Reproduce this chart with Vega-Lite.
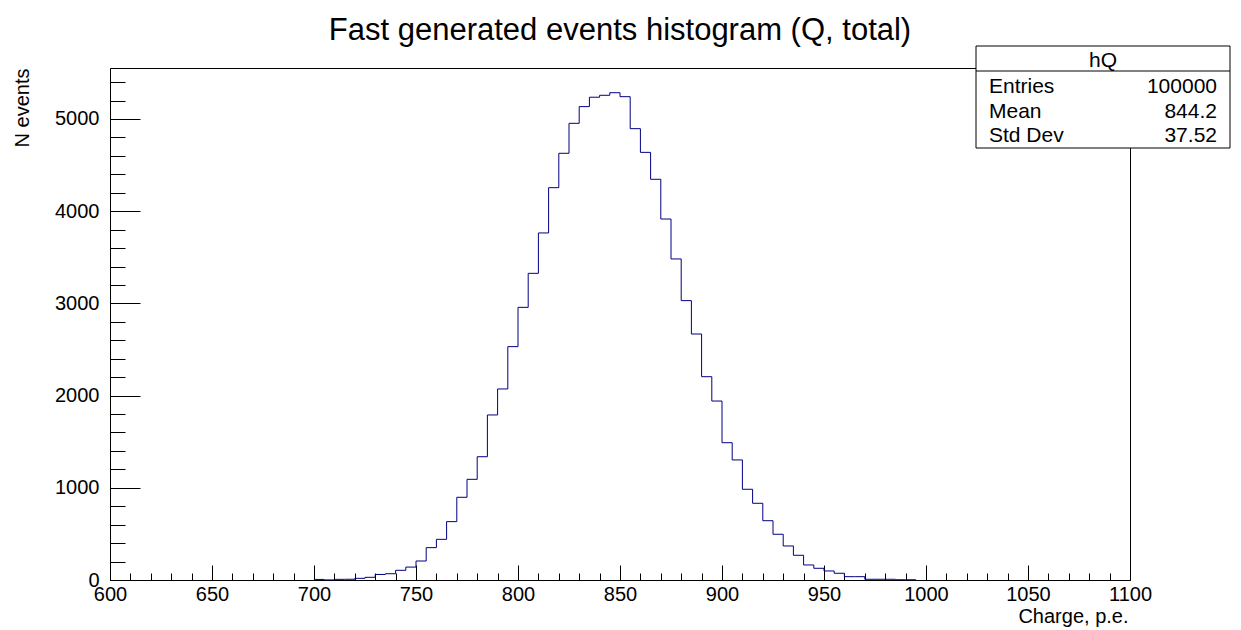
{
  "$schema": "https://vega.github.io/schema/vega-lite/v6.json",
  "width": 1020,
  "height": 512,
  "autosize": {"type": "none"},
  "padding": {"left": 110, "top": 68, "right": 111, "bottom": 50},
  "background": "white",
  "title": {
    "text": "Fast generated events histogram (Q, total)",
    "font": "Liberation Sans",
    "fontSize": 31,
    "fontWeight": "normal",
    "color": "black",
    "anchor": "middle",
    "baseline": "alphabetic",
    "offset": -25
  },
  "config": {
    "view": {"stroke": "black", "strokeWidth": 1},
    "font": "Liberation Sans",
    "axis": {
      "labelFont": "Liberation Sans",
      "labelFontSize": 20,
      "labelColor": "black",
      "titleFont": "Liberation Sans",
      "titleFontSize": 20,
      "titleFontWeight": "normal",
      "titleColor": "black",
      "tickColor": "black",
      "domainColor": "black",
      "tickWidth": 1,
      "domainWidth": 1,
      "grid": false,
      "labelFlush": false,
      "labelOverlap": false,
      "labelBound": false
    }
  },
  "datasets": {
    "hist": [
      {"charge": 700, "events": 6}, {"charge": 705, "events": 1}, {"charge": 710, "events": 7}, {"charge": 715, "events": 8},
      {"charge": 720, "events": 18}, {"charge": 725, "events": 29}, {"charge": 730, "events": 60}, {"charge": 735, "events": 68},
      {"charge": 740, "events": 105}, {"charge": 745, "events": 140}, {"charge": 750, "events": 206}, {"charge": 755, "events": 351},
      {"charge": 760, "events": 441}, {"charge": 765, "events": 633}, {"charge": 770, "events": 897}, {"charge": 775, "events": 1092},
      {"charge": 780, "events": 1337}, {"charge": 785, "events": 1790}, {"charge": 790, "events": 2072}, {"charge": 795, "events": 2531},
      {"charge": 800, "events": 2957}, {"charge": 805, "events": 3326}, {"charge": 810, "events": 3764}, {"charge": 815, "events": 4255},
      {"charge": 820, "events": 4628}, {"charge": 825, "events": 4953}, {"charge": 830, "events": 5134}, {"charge": 835, "events": 5236},
      {"charge": 840, "events": 5257}, {"charge": 845, "events": 5285}, {"charge": 850, "events": 5242}, {"charge": 855, "events": 4895},
      {"charge": 860, "events": 4638}, {"charge": 865, "events": 4346}, {"charge": 870, "events": 3915}, {"charge": 875, "events": 3482},
      {"charge": 880, "events": 3030}, {"charge": 885, "events": 2668}, {"charge": 890, "events": 2205}, {"charge": 895, "events": 1941},
      {"charge": 900, "events": 1489}, {"charge": 905, "events": 1302}, {"charge": 910, "events": 984}, {"charge": 915, "events": 832},
      {"charge": 920, "events": 643}, {"charge": 925, "events": 496}, {"charge": 930, "events": 369}, {"charge": 935, "events": 268},
      {"charge": 940, "events": 163}, {"charge": 945, "events": 127}, {"charge": 950, "events": 98}, {"charge": 955, "events": 73},
      {"charge": 960, "events": 36}, {"charge": 965, "events": 36}, {"charge": 970, "events": 8}, {"charge": 975, "events": 8},
      {"charge": 980, "events": 8}, {"charge": 985, "events": 3}, {"charge": 990, "events": 3}, {"charge": 995, "events": 0}
    ],
    "stats": [
      {"stat": "Entries", "value": "100000"},
      {"stat": "Mean", "value": "844.2"},
      {"stat": "Std Dev", "value": "37.52"}
    ],
    "box": [{"name": "hQ"}]
  },
  "layer": [
    {
      "data": {"name": "hist"},
      "mark": {"type": "line", "interpolate": "step-after", "color": "#000080", "strokeWidth": 1},
      "encoding": {
        "x": {
          "field": "charge",
          "type": "quantitative",
          "scale": {"domain": [600, 1100], "nice": false, "zero": false},
          "axis": {
            "title": "Charge, p.e.",
            "values": [600,610,620,630,640,650,660,670,680,690,700,710,720,730,740,750,760,770,780,790,800,810,820,830,840,850,860,870,880,890,900,910,920,930,940,950,960,970,980,990,1000,1010,1020,1030,1040,1050,1060,1070,1080,1090,1100],
            "format": "d",
            "labelExpr": "datum.value % 50 === 0 ? datum.label : ''",
            "tickSize": {"condition": {"test": "datum.value % 50 === 0", "value": -15}, "value": -7},
            "labelPadding": 19,
            "titleAnchor": "end",
            "titleAlign": "right",
            "titleBaseline": "alphabetic",
            "titleX": 1018,
            "titleY": 42
          }
        },
        "y": {
          "field": "events",
          "type": "quantitative",
          "scale": {"domain": [0, 5553], "nice": false, "zero": true},
          "axis": {
            "title": "N events",
            "values": [0,200,400,600,800,1000,1200,1400,1600,1800,2000,2200,2400,2600,2800,3000,3200,3400,3600,3800,4000,4200,4400,4600,4800,5000,5200,5400],
            "format": "d",
            "labelExpr": "datum.value % 1000 === 0 ? datum.label : ''",
            "tickSize": {"condition": {"test": "datum.value % 1000 === 0", "value": -30}, "value": -15},
            "labelPadding": 41,
            "titleAngle": -90,
            "titleAnchor": "end",
            "titleAlign": "right",
            "titleBaseline": "alphabetic",
            "titleX": -82,
            "titleY": 0
          }
        }
      }
    },
    {
      "data": {"name": "box"},
      "mark": {"type": "rect", "fill": "white", "stroke": "black", "strokeWidth": 1},
      "encoding": {
        "x": {"value": 866},
        "x2": {"value": 1120},
        "y": {"value": -22},
        "y2": {"value": 80}
      }
    },
    {
      "data": {"name": "box"},
      "mark": {"type": "rule", "color": "black", "strokeWidth": 1},
      "encoding": {
        "x": {"value": 866},
        "x2": {"value": 1120},
        "y": {"value": 3}
      }
    },
    {
      "data": {"name": "box"},
      "mark": {"type": "text", "font": "Liberation Sans", "fontSize": 21, "align": "center", "baseline": "alphabetic", "color": "black"},
      "encoding": {
        "x": {"value": 993},
        "y": {"value": -1},
        "text": {"field": "name"}
      }
    },
    {
      "data": {"name": "stats"},
      "mark": {"type": "text", "font": "Liberation Sans", "fontSize": 21, "align": "left", "baseline": "alphabetic", "color": "black"},
      "encoding": {
        "x": {"value": 879},
        "y": {"field": "stat", "type": "nominal", "sort": ["Entries", "Mean", "Std Dev"], "scale": {"type": "point", "range": [25, 74], "padding": 0}, "axis": null},
        "text": {"field": "stat"}
      }
    },
    {
      "data": {"name": "stats"},
      "mark": {"type": "text", "font": "Liberation Sans", "fontSize": 21, "align": "right", "baseline": "alphabetic", "color": "black"},
      "encoding": {
        "x": {"value": 1107},
        "y": {"field": "stat", "type": "nominal", "sort": ["Entries", "Mean", "Std Dev"], "scale": {"type": "point", "range": [25, 74], "padding": 0}, "axis": null},
        "text": {"field": "value"}
      }
    }
  ],
  "resolve": {"scale": {"y": "independent"}, "axis": {"y": "independent"}}
}
